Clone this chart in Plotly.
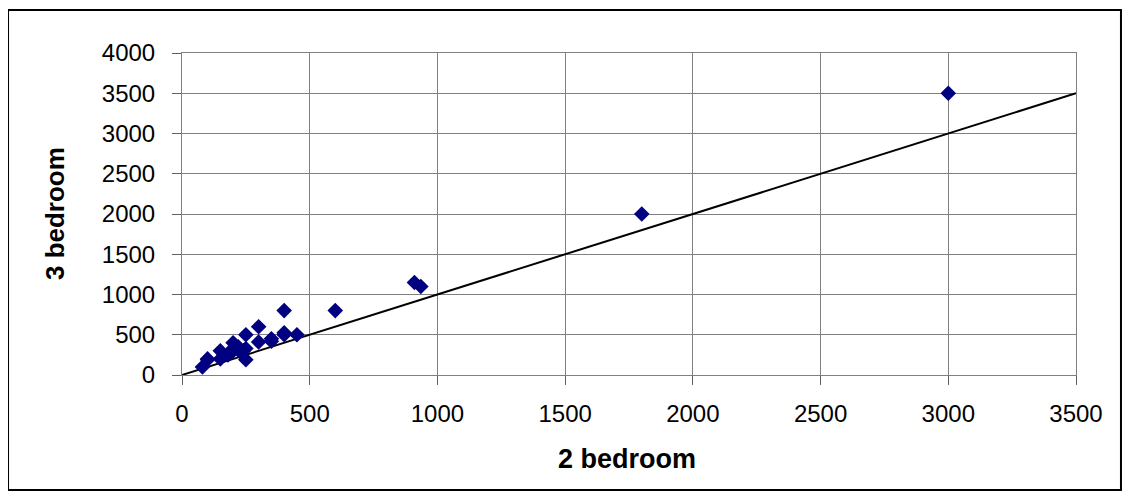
import plotly.graph_objects as go

# Data
two_bedroom = [80, 100, 100, 150, 150, 180, 200, 200, 200, 220, 230, 240, 250, 250, 250,
               300, 300, 350, 350, 400, 400, 400, 450, 600, 910, 935, 1800, 3000]
three_bedroom = [100, 190, 200, 200, 300, 250, 300, 400, 330, 350, 280, 300, 190, 330, 500,
                 410, 600, 450, 420, 525, 500, 800, 500, 800, 1150, 1100, 2000, 3500]
ref_x = [0, 3500]
ref_y = [0, 3500]
x_ticks = [0, 500, 1000, 1500, 2000, 2500, 3000, 3500]
y_ticks = [0, 500, 1000, 1500, 2000, 2500, 3000, 3500, 4000]

fig = go.Figure()
fig.add_trace(go.Scatter(x=ref_x, y=ref_y, mode="lines",
                         line=dict(color="black", width=2), showlegend=False,
                         hoverinfo="skip"))
fig.add_trace(go.Scatter(x=two_bedroom, y=three_bedroom, mode="markers",
                         marker=dict(symbol="diamond", size=12, color="#000080",
                                     line=dict(width=0)),
                         showlegend=False, cliponaxis=False))

font_family = "Arial, 'Liberation Sans', sans-serif"
axis_common = dict(showgrid=True, gridcolor="#808080", gridwidth=1,
                   showline=True, linecolor="#808080", linewidth=1, mirror=True,
                   ticks="outside", ticklen=9, tickcolor="#606060",
                   zeroline=False, tickfont=dict(family=font_family, size=24, color="black"))

fig.update_xaxes(range=[0, 3500], tickvals=x_ticks, ticklabelstandoff=8, **axis_common)
fig.update_yaxes(range=[0, 4000], tickvals=y_ticks, ticklabelstandoff=12, **axis_common)

fig.update_layout(
    width=1122, height=492,
    margin=dict(l=174, r=54, t=45, b=125),
    plot_bgcolor="white", paper_bgcolor="white",
    font=dict(family=font_family, color="black"),
    shapes=[dict(type="rect", xref="paper", yref="paper",
                 x0=-0.1946, x1=1.0503, y0=-0.357, y1=1.1335,
                 line=dict(color="black", width=2), layer="below")],
    annotations=[
        dict(text="<b>2 bedroom</b>", xref="paper", yref="paper", x=0.498, y=-0.262,
             xanchor="center", yanchor="middle", showarrow=False,
             font=dict(family=font_family, size=27, color="black")),
        dict(text="<b>3 bedroom</b>", xref="paper", yref="paper", x=-0.142, y=0.5,
             xanchor="center", yanchor="middle", showarrow=False, textangle=-90,
             font=dict(family=font_family, size=26, color="black")),
    ],
)

fig.write_html("out.html")
